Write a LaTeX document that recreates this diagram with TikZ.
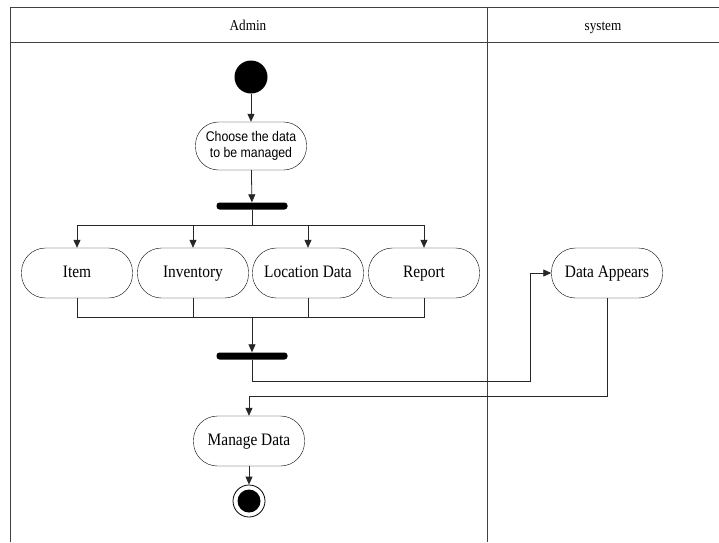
\documentclass[tikz,border=0pt]{standalone}
\usepackage{fontspec}
\setmainfont[FakeStretch=0.88]{Liberation Serif}
\newfontfamily\arialfont[FakeStretch=0.88]{Liberation Sans}
\usetikzlibrary{arrows.meta}
\begin{document}
\begin{tikzpicture}[x=1pt,y=-1pt,
  lane/.style={line width=0.9pt, black!75},
  head/.style={text height=11pt, text depth=3pt, font=\fontsize{15}{18}\selectfont},
  act/.style={draw, rectangle, rounded corners=24pt, minimum width=111pt, minimum height=50pt, inner sep=2pt, text height=12pt, text depth=3.5pt, font=\fontsize{17.5}{20}\selectfont},
  bar/.style={rectangle, fill, rounded corners=3pt, minimum width=71pt, minimum height=7pt, inner sep=0pt},
  flow/.style={line width=0.8pt, black!85, -{Triangle[length=8pt,width=7pt]}},
  wire/.style={line width=0.8pt, black!85}]
\useasboundingbox (0,0) rectangle (719,542);
% swimlanes
\draw[lane] (10,542) -- (10,7) -- (719,7);
\draw[lane] (10,42) -- (719,42);
\draw[lane] (487,7) -- (487,542);
\node[head] (admin) at (248,26){Admin};
\node[head] (system) at (603,26){system};
% nodes
\node[circle, fill, inner sep=0pt, minimum size=33pt] (start) at (251,77){};
\node[act, rounded corners=23pt, minimum height=48pt, text height=, text depth=, align=center, font=\arialfont\fontsize{14}{15.5}\selectfont] (choose) at (251,146){Choose the data\\to be managed};
\node[bar] (fork) at (252,206){};
\node[act] (item) at (77,273){Item};
\node[act] (inventory) at (193,273){Inventory};
\node[act] (location) at (308,273){Location Data};
\node[act] (report) at (424,273){Report};
\node[bar] (join) at (252,356){};
\node[act] (appears) at (607,273){Data Appears};
\node[act] (manage) at (249,441){Manage Data};
\node[circle, draw, line width=0.8pt, fill=white, inner sep=0pt, minimum size=32pt] (stop) at (249,501){};
\node[circle, fill, inner sep=0pt, minimum size=23pt] (stopdot) at (stop){};
\coordinate (split) at (252,225);
\coordinate (merge) at (252,317);
\coordinate (out) at (530,381);
\coordinate (back) at (249,396);
% connectors
\draw[flow] (start) -- (choose);
\draw[flow] (choose) -- (fork);
\draw[wire] (fork) -- (split);
\draw[flow] (split) -| (item);
\draw[flow] (split) -| (inventory);
\draw[flow] (split) -| (location);
\draw[flow] (split) -| (report);
\draw[wire] (item) |- (merge);
\draw[wire] (inventory) |- (merge);
\draw[wire] (location) |- (merge);
\draw[wire] (report) |- (merge);
\draw[flow] (merge) -- (join);
\draw[flow] (join) |- (out) |- (appears);
\draw[flow] (appears) |- (back) -- (manage);
\draw[flow] (manage) -- (stop);
\end{tikzpicture}
\end{document}
